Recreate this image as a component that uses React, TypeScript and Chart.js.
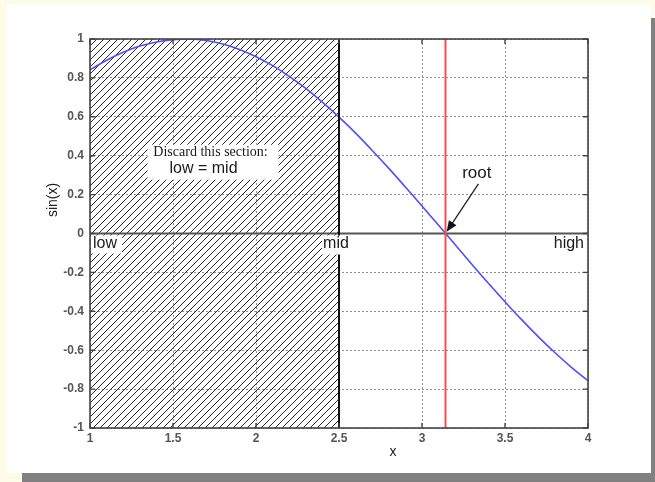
import { useEffect, useRef } from "react";
import { Chart, registerables } from "chart.js";

Chart.register(...registerables);

// Sampled curve y = sin(x) on [1, 4]
const X_VALUES = [
  1.0, 1.1, 1.2, 1.3, 1.4, 1.5, 1.6, 1.7, 1.8, 1.9, 2.0, 2.1, 2.2, 2.3, 2.4, 2.5,
  2.6, 2.7, 2.8, 2.9, 3.0, 3.1, 3.2, 3.3, 3.4, 3.5, 3.6, 3.7, 3.8, 3.9, 4.0,
];
const SIN_VALUES = [
  0.841, 0.891, 0.932, 0.964, 0.985, 0.997, 1.0, 0.992, 0.974, 0.946, 0.909, 0.863,
  0.808, 0.746, 0.675, 0.598, 0.516, 0.427, 0.335, 0.239, 0.141, 0.042, -0.058,
  -0.158, -0.256, -0.351, -0.443, -0.53, -0.612, -0.688, -0.757,
];

const X_TICKS = [1, 1.5, 2, 2.5, 3, 3.5, 4];
const X_TICK_LABELS = ["1", "1.5", "2", "2.5", "3", "3.5", "4"];
const Y_TICKS = [-1, -0.8, -0.6, -0.4, -0.2, 0, 0.2, 0.4, 0.6, 0.8, 1];
const Y_TICK_LABELS = ["-1", "-0.8", "-0.6", "-0.4", "-0.2", "0", "0.2", "0.4", "0.6", "0.8", "1"];

// Bisection bracket and the root being sought
const LOW = 1;
const MID = 2.5;
const HIGH = 4;
const ROOT = 3.1416;

// Annotation anchors (data units)
const DISCARD_AT = { x: 1.72, y: 0.4 };
const ROOT_LABEL_AT = { x: 3.33, y: 0.31 };
const ARROW_TAIL = { x: 3.34, y: 0.255 };

const SANS = "'Liberation Sans', Arial, Helvetica, sans-serif";
const SERIF = "'Liberation Serif', 'Times New Roman', serif";

function labelBox(ctx: CanvasRenderingContext2D, x: number, y: number, w: number, h: number) {
  ctx.fillStyle = "#ffffff";
  ctx.fillRect(x, y, w, h);
}

const bisectionDecor = {
  id: "bisectionDecor",
  beforeDatasetsDraw(chart: any) {
    const { ctx, chartArea: a, scales } = chart;
    const xs = scales.x;
    const xl = xs.getPixelForValue(LOW);
    const xm = xs.getPixelForValue(MID);
    const h = a.bottom - a.top;
    // hatched "discarded" half of the bracket
    ctx.save();
    ctx.beginPath();
    ctx.rect(xl, a.top, xm - xl, h);
    ctx.clip();
    ctx.strokeStyle = "#2a2a2a";
    ctx.lineWidth = 1;
    for (let s = xl - h; s < xm + 8; s += 7) {
      ctx.beginPath();
      ctx.moveTo(s, a.bottom);
      ctx.lineTo(s + h, a.top);
      ctx.stroke();
    }
    ctx.restore();
  },
  afterDatasetsDraw(chart: any) {
    const { ctx, chartArea: a, scales } = chart;
    const xs = scales.x;
    const ys = scales.y;
    const y0 = ys.getPixelForValue(0);
    const xl = xs.getPixelForValue(LOW);
    const xm = xs.getPixelForValue(MID);
    const xh = xs.getPixelForValue(HIGH);
    const xr = xs.getPixelForValue(ROOT);
    ctx.save();

    // zero line
    ctx.strokeStyle = "#555";
    ctx.lineWidth = 2;
    ctx.beginPath();
    ctx.moveTo(a.left, y0);
    ctx.lineTo(a.right, y0);
    ctx.stroke();

    // root marker
    ctx.strokeStyle = "#ff4d4d";
    ctx.lineWidth = 2;
    ctx.beginPath();
    ctx.moveTo(xr, a.top);
    ctx.lineTo(xr, a.bottom);
    ctx.stroke();

    // right edge of the discarded region
    ctx.strokeStyle = "#111";
    ctx.lineWidth = 2;
    ctx.beginPath();
    ctx.moveTo(xm, a.top);
    ctx.lineTo(xm, a.bottom);
    ctx.stroke();

    // axes box
    ctx.strokeStyle = "#444";
    ctx.lineWidth = 1.6;
    ctx.strokeRect(a.left, a.top, a.right - a.left, a.bottom - a.top);

    // inward tick marks on all four sides
    ctx.lineWidth = 1.4;
    ctx.strokeStyle = "#444";
    const tl = 5;
    X_TICKS.forEach((v) => {
      const px = xs.getPixelForValue(v);
      ctx.beginPath();
      ctx.moveTo(px, a.bottom);
      ctx.lineTo(px, a.bottom - tl);
      ctx.moveTo(px, a.top);
      ctx.lineTo(px, a.top + tl);
      ctx.stroke();
    });
    Y_TICKS.forEach((v) => {
      const py = ys.getPixelForValue(v);
      ctx.beginPath();
      ctx.moveTo(a.left, py);
      ctx.lineTo(a.left + tl, py);
      ctx.moveTo(a.right, py);
      ctx.lineTo(a.right - tl, py);
      ctx.stroke();
    });

    // bracket labels on the zero line
    ctx.font = `16px ${SANS}`;
    ctx.textBaseline = "middle";
    const ly = y0 + 10;
    labelBox(ctx, xl + 1, y0 + 2, 31, 18);
    labelBox(ctx, xm - 17, y0 + 2, 32, 19);
    ctx.fillStyle = "#1a1a1a";
    ctx.textAlign = "left";
    ctx.fillText("low", xl + 3, ly);
    ctx.textAlign = "center";
    ctx.fillText("mid", xm - 3, ly);
    ctx.textAlign = "right";
    ctx.fillText("high", xh - 4, ly);

    // discard note
    const dx = xs.getPixelForValue(DISCARD_AT.x);
    const dy = ys.getPixelForValue(DISCARD_AT.y);
    labelBox(ctx, dx - 62, dy - 11, 131, 35);
    ctx.fillStyle = "#1a1a1a";
    ctx.textAlign = "center";
    ctx.font = `14px ${SERIF}`;
    ctx.fillText("Discard this section:", dx + 1, dy - 3);
    ctx.font = `16px ${SANS}`;
    ctx.fillText("low = mid", dx - 6, dy + 13);

    // root label and arrow
    const rx = xs.getPixelForValue(ROOT_LABEL_AT.x);
    const ry = ys.getPixelForValue(ROOT_LABEL_AT.y);
    ctx.font = `17px ${SANS}`;
    ctx.fillText("root", rx, ry);
    const tx = xs.getPixelForValue(ARROW_TAIL.x);
    const ty = ys.getPixelForValue(ARROW_TAIL.y);
    const ang = Math.atan2(y0 - ty, xr - tx);
    const hx = xr - Math.cos(ang) * 2;
    const hy = y0 - Math.sin(ang) * 2;
    ctx.strokeStyle = "#222";
    ctx.lineWidth = 1.3;
    ctx.beginPath();
    ctx.moveTo(tx, ty);
    ctx.lineTo(hx - Math.cos(ang) * 8, hy - Math.sin(ang) * 8);
    ctx.stroke();
    ctx.fillStyle = "#111";
    ctx.beginPath();
    ctx.moveTo(hx, hy);
    ctx.lineTo(hx - Math.cos(ang) * 11 + Math.sin(ang) * 4.5, hy - Math.sin(ang) * 11 - Math.cos(ang) * 4.5);
    ctx.lineTo(hx - Math.cos(ang) * 11 - Math.sin(ang) * 4.5, hy - Math.sin(ang) * 11 + Math.cos(ang) * 4.5);
    ctx.closePath();
    ctx.fill();

    // axis titles
    ctx.fillStyle = "#222";
    ctx.font = `14px ${SANS}`;
    ctx.textAlign = "center";
    ctx.fillText("x", 393, 452);
    ctx.translate(53, 200);
    ctx.rotate(-Math.PI / 2);
    ctx.fillText("sin(x)", 0, 0);
    ctx.restore();
  },
};

export default function App() {
  const ref = useRef<HTMLCanvasElement>(null);

  useEffect(() => {
    document.body.style.margin = "0";
    const canvas = ref.current;
    if (!canvas) return;
    const tickFont = { family: SANS, size: 12, weight: "bold" as const };
    const chart = new Chart(canvas, {
      type: "line",
      data: {
        datasets: [
          {
            data: X_VALUES.map((x, i) => ({ x, y: SIN_VALUES[i] })),
            borderColor: "#4f4fff",
            borderWidth: 1.6,
            pointRadius: 0,
            tension: 0.4,
            fill: false,
          },
        ],
      },
      options: {
        responsive: false,
        animation: false,
        devicePixelRatio: 1,
        layout: { padding: { top: 39, right: 67, left: 0, bottom: 0 } },
        plugins: { legend: { display: false }, tooltip: { enabled: false } },
        scales: {
          x: {
            type: "linear",
            min: 1,
            max: 4,
            afterBuildTicks: (s: any) => {
              s.ticks = X_TICKS.map((value) => ({ value }));
            },
            afterFit: (s: any) => {
              s.height = 54;
            },
            ticks: {
              autoSkip: false,
              maxRotation: 0,
              padding: 3,
              color: "#555",
              font: tickFont,
              callback: (_v: any, i: number) => X_TICK_LABELS[i],
            },
            grid: { color: "#8f8f8f", lineWidth: 1, drawTicks: false },
            border: { display: false, dash: [2, 2] },
          },
          y: {
            type: "linear",
            min: -1,
            max: 1,
            afterBuildTicks: (s: any) => {
              s.ticks = Y_TICKS.map((value) => ({ value }));
            },
            afterFit: (s: any) => {
              s.width = 90;
            },
            ticks: {
              autoSkip: false,
              padding: 6,
              color: "#555",
              font: tickFont,
              callback: (_v: any, i: number) => Y_TICK_LABELS[i],
            },
            grid: { color: "#8f8f8f", lineWidth: 1, drawTicks: false },
            border: { display: false, dash: [2, 2] },
          },
        },
      },
      plugins: [bisectionDecor],
    });
    return () => chart.destroy();
  }, []);

  return (
    <div
      style={{
        position: "fixed",
        left: 0,
        top: 0,
        width: 655,
        height: 482,
        overflow: "hidden",
        background: "#fcfce9",
      }}
    >
      <div style={{ position: "absolute", left: 22, top: 18, width: 644, height: 469, background: "#808080" }} />
      <div style={{ position: "absolute", left: 7, top: 4, width: 644, height: 469, background: "#ffffff" }} />
      <canvas
        ref={ref}
        width={655}
        height={482}
        style={{ position: "absolute", left: 0, top: 0, width: 655, height: 482 }}
      />
    </div>
  );
}
